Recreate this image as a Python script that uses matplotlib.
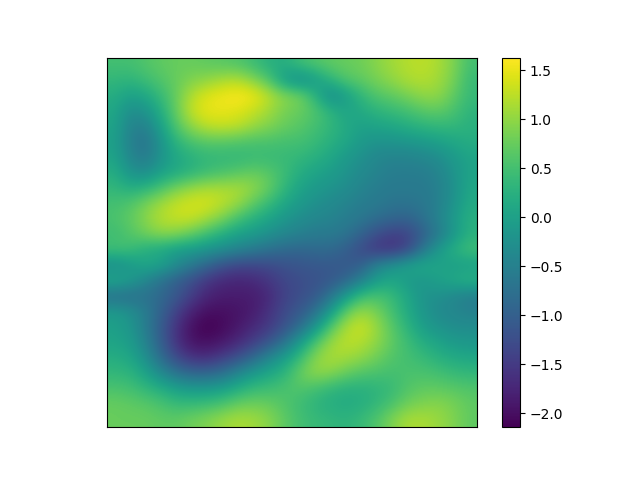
import numpy as np
import matplotlib
matplotlib.use('Agg')
import matplotlib.pyplot as plt

# values, row by row from the top
rows = [
    [.5, .5, .6, .7, .75, .75, .7, .65, .6, .45, .25, .2, .45, .6, .7, .75, .8, .95, 1.1, 1.2, 1.25, 1.15, .9, .5],
    [.35, .3, .45, .6, .75, .9, 1.0, 1.15, 1.2, .95, .6, -.05, -.35, -.1, .3, .6, .7, .85, 1.0, 1.15, 1.2, 1.1, .85, .4],
    [.2, 0, .1, .4, .75, 1.2, 1.45, 1.55, 1.63, 1.55, 1.25, .95, .85, .3, -.35, -.05, .35, .6, .7, .85, 1.0, 1.0, .7, .4],
    [.1, -.3, -.2, .2, .75, 1.3, 1.5, 1.5, 1.45, 1.3, 1.1, .85, .75, .6, .3, .05, .15, .3, .4, .5, .65, .7, .55, .3],
    [.05, -.45, -.5, 0, .6, 1.0, 1.25, 1.3, 1.25, 1.05, .9, .75, .65, .5, .35, .15, 0, .05, .1, .2, .3, .35, .35, .25],
    [0, -.5, -.7, -.2, .3, .55, .65, .65, .6, .55, .55, .5, .5, .4, .25, .1, -.1, -.2, -.2, -.15, -.1, 0, .1, .2],
    [.05, -.4, -.6, -.2, .1, .25, .35, .35, .35, .4, .4, .4, .35, .25, .1, -.1, -.25, -.4, -.45, -.45, -.4, -.3, -.1, .05],
    [.2, -.2, -.3, 0, .15, .3, .45, .55, .65, .75, .65, .45, .2, .05, -.05, -.2, -.35, -.45, -.55, -.55, -.55, -.45, -.2, .05],
    [.35, .2, .3, .55, .85, 1.05, 1.15, 1.15, 1.15, 1.0, .75, .35, .05, -.1, -.2, -.3, -.45, -.55, -.6, -.6, -.6, -.5, -.25, .1],
    [.5, .6, .85, 1.1, 1.3, 1.4, 1.4, 1.25, 1.05, .7, .4, .1, -.1, -.25, -.35, -.45, -.55, -.6, -.7, -.7, -.65, -.5, -.2, .15],
    [.55, .7, .95, 1.2, 1.3, 1.3, 1.1, .85, .5, .25, .05, -.15, -.3, -.4, -.45, -.55, -.65, -.8, -.9, -.95, -.75, -.45, -.1, .25],
    [.45, .6, .8, .95, .9, .7, .45, .2, 0, -.1, -.25, -.4, -.5, -.6, -.6, -.7, -.95, -1.25, -1.45, -1.4, -1.0, -.6, -.15, .25],
    [.5, .45, .2, .1, -.05, -.1, -.2, -.3, -.45, -.6, -.75, -.85, -.9, -.85, -.85, -1.0, -1.3, -1.55, -1.6, -1.35, -.65, -.1, .25, .5],
    [-.35, -.15, .1, .05, -.3, -.6, -.9, -1.2, -1.35, -1.35, -1.3, -1.2, -1.15, -1.1, -1.1, -1.1, -1.0, -.45, -.2, .05, .15, .05, -.05, -.05],
    [.15, -.05, -.4, -.75, -1.0, -1.25, -1.55, -1.7, -1.75, -1.7, -1.55, -1.35, -1.25, -1.2, -1.1, -.9, -.5, -.05, .1, -.1, -.15, 0, .15, .3],
    [-.8, -.8, -.75, -.85, -1.1, -1.45, -1.75, -1.85, -1.85, -1.85, -1.7, -1.4, -1.25, -1.1, -.7, -.1, .45, .55, .4, .1, -.2, -.25, -.4, -.55],
    [-.1, -.25, -.55, -.95, -1.4, -1.8, -2.0, -2.0, -1.95, -1.85, -1.6, -1.3, -1.1, -.75, -.1, .7, 1.05, .85, .5, .15, -.15, -.35, -.4, -.5],
    [0, -.15, -.55, -1.05, -1.6, -2.0, -2.14, -2.05, -1.9, -1.7, -1.5, -1.2, -.8, -.2, .6, 1.15, 1.35, 1.05, .65, .3, -.05, -.2, -.3, -.3],
    [.05, -.05, -.45, -1.0, -1.6, -1.95, -2.0, -1.9, -1.7, -1.45, -1.15, -.7, -.1, .55, 1.05, 1.25, 1.2, 1.0, .7, .45, .2, .05, -.1, -.15],
    [.2, .1, -.25, -.8, -1.3, -1.6, -1.65, -1.45, -1.2, -.85, -.4, -.05, .4, .95, 1.15, 1.1, 1.0, .8, .6, .5, .4, .25, .15, .1],
    [.35, .3, .05, -.35, -.7, -.9, -.9, -.75, -.4, -.1, .1, .3, .75, 1.0, .95, .75, .6, .55, .5, .55, .55, .5, .4, .35],
    [.55, .5, .35, .2, 0, -.1, -.1, 0, .2, .4, .45, .55, .6, .5, .35, .25, .25, .3, .4, .6, .7, .7, .65, .6],
    [.75, .7, .65, .55, .4, .4, .45, .55, .75, .8, .75, .6, .45, .3, .2, .15, .2, .35, .55, .8, .9, .95, .85, .7],
    [.75, .75, .75, .7, .7, .8, .9, 1.05, 1.15, 1.1, .95, .7, .5, .4, .35, .3, .4, .6, .9, 1.15, 1.15, 1.05, .9, .7],
]

Z = np.array(rows)

fig, ax = plt.subplots()
im = ax.imshow(Z, interpolation='bicubic', vmin=-2.14, vmax=1.63)
ax.set_xticks([])
ax.set_yticks([])
fig.colorbar(im)
fig.savefig('out.png')
